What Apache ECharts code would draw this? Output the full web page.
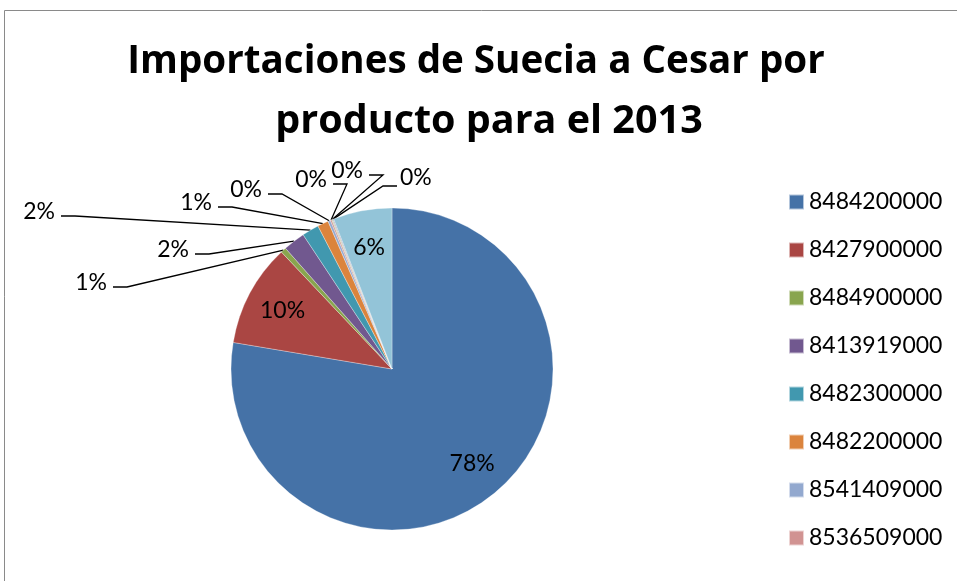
<!DOCTYPE html>
<html>
<head>
<meta charset="utf-8">
<script src="https://cdn.jsdelivr.net/npm/echarts@6/dist/echarts.min.js"></script>
<style>
  html, body { margin: 0; padding: 0; background: #fff; }
  #chart { width: 957px; height: 581px; }
</style>
</head>
<body>
<div id="chart"></div>
<script>
// ---- data ----
const titleLines = ['Importaciones de Suecia a Cesar por', 'producto para el 2013'];
const categories = ['8484200000', '8427900000', '8484900000', '8413919000', '8482300000',
                    '8482200000', '8541409000', '8536509000', 'Otro producto 9', 'Otro producto 10', 'Otro producto 11'];
const values = [77.6, 10.3, 0.55, 2.2, 1.7, 1.1, 0.25, 0.15, 0.1, 0.1, 5.9];
const legendShown = categories.slice(0, 8);
const colors = ['#4572A7', '#AA4643', '#89A54E', '#71588F', '#4198AF', '#DB843D',
                '#93A9CF', '#D19392', '#B9CD96', '#A99BBD', '#93C4D8'];

// ---- layout (positions / styles) ----
const CX = 392, CY = 369, R = 161;
const insideIdx = [0, 1, 10];
const INNER_FRAC = 0.77;
// label anchor offsets from pie centre: [dx, dy, side of leader line]
const outerLabelPos = {
  2: [-285, -86, 'R'],
  3: [-203, -119, 'R'],
  4: [-337, -157, 'R'],
  5: [-180, -166, 'R'],
  6: [-130, -179, 'R'],
  7: [-65, -189, 'R'],
  8: [-29, -198, 'R'],
  9: [-25, -191, 'L']
};
const titleCenters = [476, 489];
const titleTops = [33, 92];

const total = values.reduce((a, b) => a + b, 0);
const midAngle = [];
let acc = 0;
values.forEach(v => { midAngle.push((acc + v / 2) / total * 2 * Math.PI); acc += v; });

const FONT = 'Lato, "Open Sans", sans-serif';
const TITLE_FONT = '"Open Sans", Lato, sans-serif';

const chart = echarts.init(document.getElementById('chart'));
chart.setOption({
  animation: false,
  color: colors,
  title: titleLines.map((t, i) => ({
    text: t,
    left: titleCenters[i],
    textAlign: 'center',
    top: titleTops[i],
    padding: 0,
    textStyle: { fontFamily: TITLE_FONT, fontWeight: 'bold', fontSize: i === 0 ? 38.6 : 39.5, lineHeight: 59, color: '#000' }
  })),
  legend: {
    data: legendShown,
    orient: 'vertical',
    left: 783,
    top: 185,
    icon: 'rect',
    itemWidth: 15,
    itemHeight: 15,
    itemGap: 24,
    textStyle: { fontFamily: FONT, fontSize: 23, lineHeight: 24, color: '#000' }
  },
  graphic: [{
    type: 'rect',
    shape: { x: 4.5, y: 10.5, width: 1200, height: 1200 },
    style: { fill: 'none', stroke: '#8a8a8a', lineWidth: 1 }
  }],
  series: [{
    type: 'pie',
    center: [CX, CY],
    radius: [0, R],
    startAngle: 90,
    clockwise: true,
    avoidLabelOverlap: false,
    itemStyle: { borderColor: 'rgba(255,255,255,0.6)', borderWidth: 0.5 },
    label: {
      show: true,
      position: 'outside',
      fontFamily: FONT,
      fontSize: 23,
      color: '#000',
      formatter: p => Math.round(p.percent) + '%'
    },
    labelLine: { show: true, length: 10, length2: 10, lineStyle: { color: '#000', width: 1.3 } },
    labelLayout: function (p) {
      const i = p.dataIndex;
      if (insideIdx.indexOf(i) >= 0) {
        const a = midAngle[i];
        return {
          x: CX + Math.sin(a) * R * INNER_FRAC,
          y: CY - Math.cos(a) * R * INNER_FRAC,
          align: 'center', verticalAlign: 'middle'
        };
      }
      const o = outerLabelPos[i];
      if (!o) return {};
      const x = CX + o[0], y = CY + o[1];
      const a = midAngle[i];
      const p0 = [CX + Math.sin(a) * R, CY - Math.cos(a) * R];
      if (o[2] === 'R') {
        return { x: x, y: y, align: 'right', verticalAlign: 'middle',
                 labelLinePoints: [p0, [x + 20, y + 4], [x + 6, y + 4]] };
      }
      return { x: x + 33, y: y, align: 'left', verticalAlign: 'middle',
               labelLinePoints: [p0, [x + 16, y + 8], [x + 30, y + 8]] };
    },
    data: categories.map((c, i) => ({
      name: c,
      value: values[i],
      label: insideIdx.indexOf(i) >= 0 ? { position: 'inside' } : undefined,
      labelLine: insideIdx.indexOf(i) >= 0 ? { show: false } : undefined
    }))
  }]
});
</script>
</body>
</html>
